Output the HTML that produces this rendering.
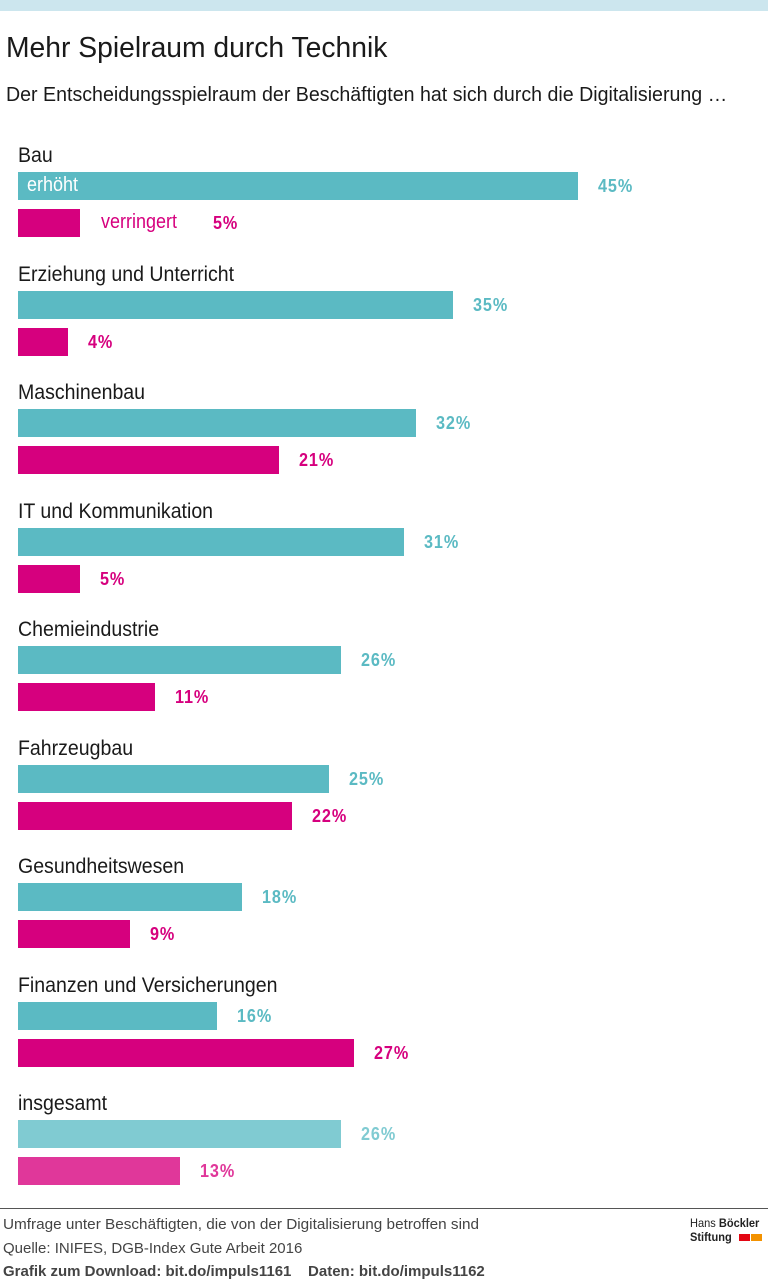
<!DOCTYPE html>
<html><head><meta charset="utf-8"><style>
body{margin:0;width:768px;height:1285px;background:#fff;position:relative;overflow:hidden;font-family:"Liberation Sans",sans-serif;color:#1a1a1a}
.a{position:absolute;white-space:nowrap;transform-origin:left top}
.bar{position:absolute;left:18px;height:28px}
.v{position:absolute;font-weight:bold;font-size:18px;letter-spacing:1px;transform:scaleX(0.9);transform-origin:left top}
.lab{position:absolute;left:18px;font-size:21px;transform:scaleX(0.93);transform-origin:left top;white-space:nowrap}
</style></head><body>
<div class="a" style="left:0;top:0;width:768px;height:11px;background:#cce6ee"></div>
<div class="a" style="left:6px;top:32px;font-size:29px;transform:scaleX(0.975)">Mehr Spielraum durch Technik</div>
<div class="a" style="left:6px;top:84px;font-size:20px;transform:scaleX(0.98)">Der Entscheidungsspielraum der Beschäftigten hat sich durch die Digitalisierung …</div>
<div id="c"></div>
<div class="a" style="left:0;top:1208px;width:768px;height:1px;background:#555"></div>
<div class="a" style="left:3px;top:1216px;font-size:15px;color:#444;transform:scaleX(1.02)">Umfrage unter Beschäftigten, die von der Digitalisierung betroffen sind</div>
<div class="a" style="left:3px;top:1240px;font-size:15px;color:#444">Quelle: INIFES, DGB-Index Gute Arbeit 2016</div>
<div class="a" style="left:3px;top:1263px;font-size:15px;color:#444;font-weight:bold">Grafik zum Download: bit.do/impuls1161&nbsp;&nbsp;&nbsp;&nbsp;Daten: bit.do/impuls1162</div>
<div class="a" style="left:690px;top:1216px;font-size:12px;color:#222;transform:scaleX(0.92)">Hans <b>Böckler</b></div>
<div class="a" style="left:690px;top:1230px;font-size:12px;color:#222;font-weight:bold;transform:scaleX(0.92)">Stiftung</div>
<div class="a" style="left:739px;top:1234px;width:11px;height:7px;background:#e30613"></div>
<div class="a" style="left:751px;top:1234px;width:11px;height:7px;background:#f39200"></div>
<script>
var d=[["Bau",45,5],["Erziehung und Unterricht",35,4],["Maschinenbau",32,21],["IT und Kommunikation",31,5],["Chemieindustrie",26,11],["Fahrzeugbau",25,22],["Gesundheitswesen",18,9],["Finanzen und Versicherungen",16,27],["insgesamt",26,13]];
var h="";var s=12.44;
d.forEach(function(r,i){var y=Math.round(143+i*118.5);var last=i==8;
var ct=last?"#80cbd2":"#5bbac3",cm=last?"#e0379a":"#d6007e";
h+='<div class="lab" style="top:'+(y+1)+'px">'+r[0]+'</div>';
var w1=Math.round(r[1]*s),w2=Math.round(r[2]*s);
h+='<div class="bar" style="top:'+(y+29)+'px;width:'+w1+'px;background:'+ct+'"></div>';
h+='<div class="v" style="color:'+ct+';top:'+(y+33)+'px;left:'+(18+w1+20)+'px">'+r[1]+'%</div>';
h+='<div class="bar" style="top:'+(y+66)+'px;width:'+w2+'px;background:'+cm+'"></div>';
var vx=18+w2+20;
if(i==0){h+='<div class="a" style="left:27px;top:'+(y+31)+'px;font-size:20px;color:#fff;transform:scaleX(0.9)">erhöht</div>';
h+='<div class="a" style="left:101px;top:'+(y+68)+'px;font-size:20px;color:#d6007e;transform:scaleX(0.9)">verringert</div>';vx=213;}
h+='<div class="v" style="color:'+cm+';top:'+(y+70)+'px;left:'+vx+'px">'+r[2]+'%</div>';});
document.getElementById("c").innerHTML=h;
</script>
</body></html>
